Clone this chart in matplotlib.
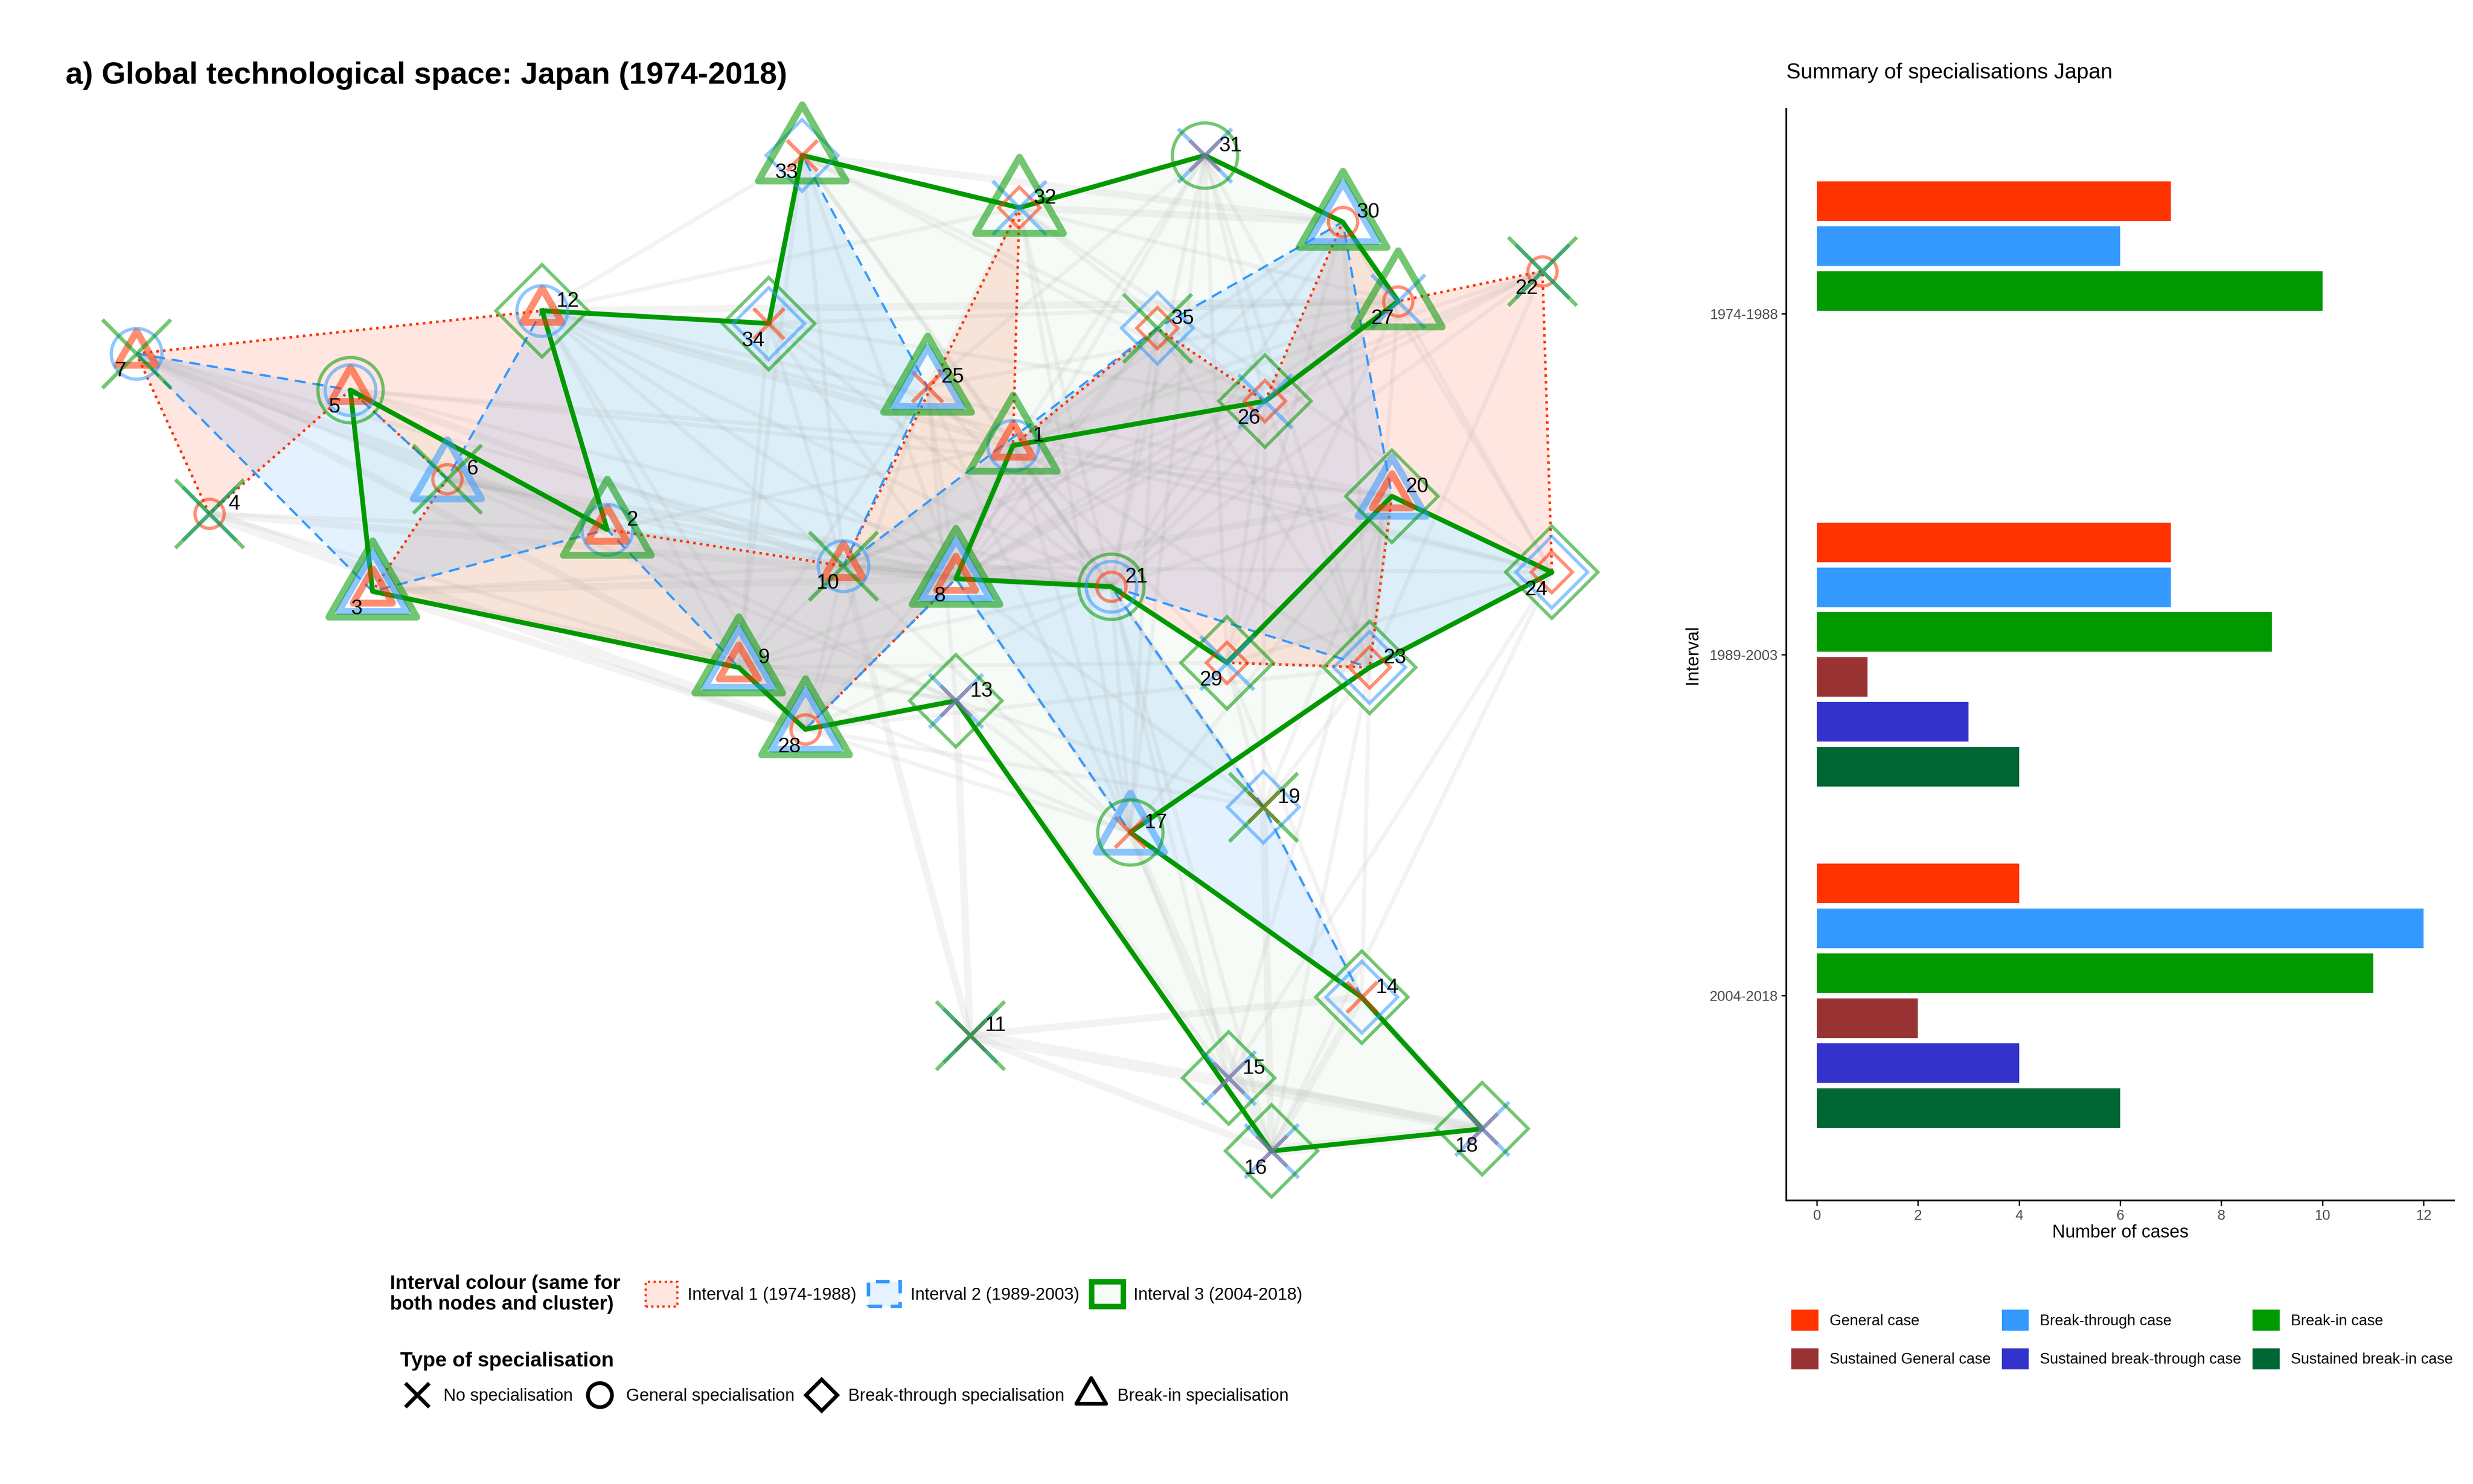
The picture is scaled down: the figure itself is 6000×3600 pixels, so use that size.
"""Japan global technological space network plus specialisation summary bars."""

import matplotlib

matplotlib.use("Agg")
import matplotlib.pyplot as plt
from matplotlib.lines import Line2D
from matplotlib.patches import Patch
from matplotlib.path import Path

plt.rcParams["font.family"] = ["Liberation Sans", "DejaVu Sans"]

# --- network layout (layout units, y grows downward) ---
NODE_X = [639, 383, 235, 132, 221, 282, 86, 603, 466, 532,
          612, 342, 603, 859, 775, 802, 713, 935, 797, 878,
          701, 973, 864, 979, 585, 798, 882, 508, 774, 847,
          760, 643, 506, 485, 730]
NODE_Y = [281, 334, 373, 324, 246, 302, 223, 365, 421, 357,
          653, 196, 442, 629, 680, 726, 525, 712, 509, 313,
          370, 171, 421, 361, 244, 253, 190, 460, 418, 140,
          98, 131, 98, 204, 207]

# specialisation type per node: X none, O general, D break-through, T break-in
SPEC_INTERVAL_1 = "T T T O T O T T T T X T X X X X X X X T O O D D X D O O D O X D X X D".split()
SPEC_INTERVAL_2 = "O O T X O T O T T O X O X D X X T X D T O X D D T X X T X T X X D D D".split()
SPEC_INTERVAL_3 = "T T T X O X X T T X X D D D D D O D X D O X D D T D T T D T O T T D X".split()

# cluster hulls (node ids in boundary order)
HULL_INTERVAL_1 = [7, 12, 2, 10, 32, 1, 35, 26, 30, 27, 22, 24, 20, 23, 29, 21, 8, 28, 9, 3, 6, 5, 4]
HULL_INTERVAL_2 = [7, 5, 6, 12, 34, 33, 25, 10, 35, 30, 20, 24, 23, 21, 19, 14, 17, 8, 28, 9, 2, 3]
HULL_INTERVAL_3 = [12, 34, 33, 32, 31, 30, 27, 26, 1, 8, 21, 29, 20, 24, 23, 17, 14, 18, 16, 13, 28, 9, 3, 5, 2]

# global space edges: (from, to, weight class)
EDGES = [
    (7, 2, 3), (4, 28, 3), (3, 28, 2), (11, 18, 3), (10, 11, 2), (16, 18, 3), (4, 8, 2), (7, 9, 2),
    (5, 10, 2), (11, 16, 2), (11, 14, 2), (13, 11, 2), (28, 13, 2), (14, 18, 2), (15, 18, 2),
    (14, 16, 2), (17, 16, 2), (19, 16, 2), (23, 16, 1), (24, 16, 1), (24, 15, 1), (23, 14, 1),
    (20, 15, 1), (13, 16, 1), (13, 15, 1), (17, 15, 1), (19, 14, 1), (29, 14, 1), (21, 16, 1),
    (21, 15, 1), (12, 27, 2), (12, 1, 2), (12, 20, 1), (12, 24, 1), (12, 8, 1), (12, 21, 1),
    (12, 9, 1), (12, 10, 1), (12, 28, 1), (12, 33, 1), (12, 32, 1), (33, 30, 2), (33, 26, 1),
    (33, 21, 1), (33, 10, 1), (33, 1, 1), (33, 8, 1), (33, 35, 1), (33, 27, 1), (33, 9, 1),
    (32, 30, 2), (32, 26, 1), (32, 21, 1), (32, 17, 1), (32, 24, 1), (32, 25, 1), (31, 8, 1),
    (31, 1, 1), (31, 17, 1), (31, 29, 1), (31, 23, 1), (31, 21, 1), (31, 25, 1), (31, 20, 1),
    (31, 26, 1), (30, 21, 1), (30, 1, 1), (30, 29, 1), (30, 24, 1), (30, 23, 1), (30, 8, 1),
    (22, 1, 1), (22, 8, 1), (22, 10, 1), (22, 21, 1), (22, 23, 1), (22, 26, 1), (27, 29, 1),
    (27, 1, 1), (27, 8, 1), (27, 23, 1), (27, 24, 1), (27, 21, 1), (27, 25, 1), (35, 28, 1),
    (35, 8, 1), (35, 21, 1), (35, 23, 1), (35, 1, 1), (35, 17, 1), (26, 8, 1), (26, 10, 1),
    (26, 21, 1), (26, 23, 1), (26, 29, 1), (26, 19, 1), (25, 13, 1), (25, 8, 1), (25, 9, 1),
    (25, 21, 1), (25, 17, 1), (25, 28, 1), (34, 9, 1), (34, 8, 1), (34, 1, 1), (34, 21, 1),
    (34, 27, 1), (34, 26, 1), (34, 10, 1), (6, 21, 2), (5, 20, 1), (7, 8, 1), (3, 10, 1),
    (2, 21, 1), (9, 21, 1), (1, 21, 1), (20, 8, 2), (24, 1, 1), (24, 10, 1), (6, 13, 1),
    (2, 13, 1), (9, 29, 1), (28, 23, 1), (5, 1, 1), (5, 21, 1), (6, 8, 1), (6, 10, 1), (3, 9, 1),
    (4, 9, 1), (4, 2, 1), (7, 6, 1), (5, 2, 1), (3, 8, 2), (2, 8, 1), (2, 1, 1), (9, 8, 1),
    (9, 17, 1), (28, 17, 1), (28, 19, 1), (13, 17, 1), (13, 19, 1), (8, 17, 1), (8, 19, 1),
    (10, 17, 1), (1, 17, 1), (1, 19, 1), (21, 19, 1), (21, 17, 1), (29, 19, 1), (23, 19, 1),
    (20, 19, 1), (20, 17, 1), (20, 29, 1), (20, 23, 1), (20, 21, 1), (24, 23, 1), (24, 29, 1),
    (23, 29, 1), (1, 8, 2), (1, 10, 1), (10, 8, 2), (21, 8, 2), (21, 29, 1), (1, 29, 1),
    (10, 21, 1), (9, 10, 1), (28, 10, 1), (28, 21, 1), (9, 13, 1), (3, 13, 1), (1, 26, 1),
    (1, 20, 1), (1, 23, 1),
]

# --- summary bars ---
INTERVALS = ["1974-1988", "1989-2003", "2004-2018"]
CASE_LABELS = ["General case", "Break-through case", "Break-in case",
               "Sustained General case", "Sustained break-through case", "Sustained break-in case"]
GENERAL_CASES = [7, 7, 4]
BREAK_THROUGH_CASES = [6, 7, 12]
BREAK_IN_CASES = [10, 9, 11]
SUSTAINED_GENERAL = [0, 1, 2]
SUSTAINED_BREAK_THROUGH = [0, 3, 4]
SUSTAINED_BREAK_IN = [0, 4, 6]

INTERVAL_COLORS = ["#FF3300", "#3399FF", "#009900"]
CASE_COLORS = ["#FF3300", "#3399FF", "#009900", "#993333", "#3333CC", "#006633"]

TRIANGLE = Path([(0, 1), (-0.866, -0.5), (0.866, -0.5), (0, 1)],
                [Path.MOVETO, Path.LINETO, Path.LINETO, Path.CLOSEPOLY])
BASE_SIZE = [17, 29.5, 38]
LABEL_LOWER_LEFT = {7, 5, 34, 33, 27, 22, 26, 24, 10, 8, 29, 3, 28, 16, 18}


def marker_style(shape, size):
    if shape == "T":
        return dict(marker=TRIANGLE, ms=size * 1.555, mew=4.0)
    if shape == "D":
        return dict(marker="D", ms=size * 1.0, mew=1.9)
    if shape == "X":
        return dict(marker="x", ms=size * 1.05, mew=2.2)
    return dict(marker="o", ms=size, mew=1.9)


def draw_hull(ax, order, color, ls, lw, fill_alpha):
    xs = [NODE_X[i - 1] for i in order]
    ys = [NODE_Y[i - 1] for i in order]
    ax.fill(xs, ys, facecolor=color, alpha=fill_alpha, edgecolor="none", zorder=1)
    ax.plot(xs + xs[:1], ys + ys[:1], color=color, ls=ls, lw=lw,
            solid_joinstyle="round", dash_joinstyle="round", zorder=3)


fig = plt.figure(figsize=(20, 12), dpi=300)

# ---------------- network panel ----------------
ax = fig.add_axes([0, 0, 1, 1])
ax.set_xlim(0, 1560)
ax.set_ylim(936, 0)
ax.axis("off")

draw_hull(ax, HULL_INTERVAL_1, INTERVAL_COLORS[0], (0, (1, 1.6)), 1.5, 0.12)
draw_hull(ax, HULL_INTERVAL_2, INTERVAL_COLORS[1], (0, (5, 3)), 1.3, 0.13)
draw_hull(ax, HULL_INTERVAL_3, INTERVAL_COLORS[2], "-", 2.8, 0.03)

edge_widths = {1: 2.4, 2: 4.2, 3: 6.5}
for a, b, w in EDGES:
    ax.plot([NODE_X[a - 1], NODE_X[b - 1]], [NODE_Y[a - 1], NODE_Y[b - 1]],
            color="#9A9A9A", lw=edge_widths[w], alpha=0.11, solid_capstyle="butt", zorder=2)

# interval 1 at the bottom, interval 3 on top
for k, specs in enumerate([SPEC_INTERVAL_1, SPEC_INTERVAL_2, SPEC_INTERVAL_3]):
    for shape in ["X", "O", "D", "T"]:
        idx = [i for i, s in enumerate(specs) if s == shape]
        if not idx:
            continue
        ax.plot([NODE_X[i] for i in idx], [NODE_Y[i] for i in idx], ls="none",
                mfc="none", mec=INTERVAL_COLORS[k], alpha=0.55, zorder=4,
                **marker_style(shape, BASE_SIZE[k]))

for i in range(len(NODE_X)):
    node_id = i + 1
    dx, dy = (-10, 11) if node_id in LABEL_LOWER_LEFT else (16, -6)
    ax.text(NODE_X[i] + dx, NODE_Y[i] + dy, str(node_id), fontsize=12,
            ha="center", va="center", zorder=5)

fig.text(0.0265, 0.9437, "a) Global technological space: Japan (1974-2018)",
         fontsize=18, fontweight="bold", va="baseline", ha="left")

# interval legend
fig.text(0.1577, 0.128, "Interval colour (same for\nboth nodes and cluster)",
         fontsize=11.5, fontweight="bold", ha="left", va="center", linespacing=1.15)
interval_handles = [
    Patch(facecolor=(1, 0.2, 0, 0.12), edgecolor="#FF3300", linestyle=(0, (1, 1.5)), linewidth=1.3),
    Patch(facecolor=(0.2, 0.6, 1, 0.12), edgecolor="#3399FF", linestyle=(0, (4, 2.5)), linewidth=2.0),
    Patch(facecolor=(0, 0.6, 0, 0.03), edgecolor="#009900", linestyle="-", linewidth=3.2),
]
fig.legend(interval_handles, ["Interval 1 (1974-1988)", "Interval 2 (1989-2003)", "Interval 3 (2004-2018)"],
           loc="center left", bbox_to_anchor=(0.261, 0.128), ncol=3, frameon=False, fontsize=10,
           handlelength=1.85, handleheight=1.85, handletextpad=0.6, columnspacing=0.7,
           borderpad=0, borderaxespad=0)

# specialisation type legend
fig.text(0.1619, 0.0828, "Type of specialisation", fontsize=12, fontweight="bold",
         ha="left", va="center")
shape_handles = [
    Line2D([], [], ls="none", marker="x", ms=14, mew=2.2, color="black"),
    Line2D([], [], ls="none", marker="o", ms=14, mew=2.2, mfc="none", color="black"),
    Line2D([], [], ls="none", marker="D", ms=13, mew=2.2, mfc="none", color="black"),
    Line2D([], [], ls="none", marker=TRIANGLE, ms=20, mew=2.2, mfc="none", color="black"),
]
fig.legend(shape_handles, ["No specialisation", "General specialisation",
                           "Break-through specialisation", "Break-in specialisation"],
           loc="center left", bbox_to_anchor=(0.1617, 0.0591), ncol=4, frameon=False,
           fontsize=10, handlelength=2.0, handletextpad=0.55, columnspacing=0.55,
           borderpad=0, borderaxespad=0)

# ---------------- summary panel ----------------
ax2 = fig.add_axes([0.7224, 0.1912, 0.2699, 0.7354])
series = [GENERAL_CASES, BREAK_THROUGH_CASES, BREAK_IN_CASES,
          SUSTAINED_GENERAL, SUSTAINED_BREAK_THROUGH, SUSTAINED_BREAK_IN]
slot = 0.1317
for k, values in enumerate(series):
    ys = [g + 1 + (k - 2.5) * slot for g in range(len(INTERVALS))]
    ax2.barh(ys, values, height=0.116, color=CASE_COLORS[k], linewidth=0, label=CASE_LABELS[k])

ax2.set_xlim(-0.6, 12.6)
ax2.set_ylim(3.6, 0.4)
ax2.set_xticks(range(0, 13, 2))
ax2.set_yticks([1, 2, 3])
ax2.set_yticklabels(INTERVALS)
for side in ["top", "right"]:
    ax2.spines[side].set_visible(False)
for side in ["left", "bottom"]:
    ax2.spines[side].set_linewidth(1.0)
ax2.tick_params(axis="both", labelsize=8.3, labelcolor="#4D4D4D", length=3, width=0.8, pad=2)
ax2.set_xlabel("Number of cases", fontsize=10.5, labelpad=1)
ax2.set_ylabel("Interval", fontsize=10.5, labelpad=5)

fig.text(0.7224, 0.951, "Summary of specialisations Japan", fontsize=12.5,
         ha="left", va="center")

handles, labels = ax2.get_legend_handles_labels()
order = [0, 3, 1, 4, 2, 5]
fig.legend([handles[i] for i in order], [labels[i] for i in order],
           loc="upper left", bbox_to_anchor=(0.7244, 0.1175), ncol=3, frameon=False,
           fontsize=8.8, handlelength=1.78, handleheight=1.78,
           handletextpad=0.74, columnspacing=0.74, labelspacing=1.15, borderpad=0, borderaxespad=0)

fig.savefig("out.png", dpi=300)
